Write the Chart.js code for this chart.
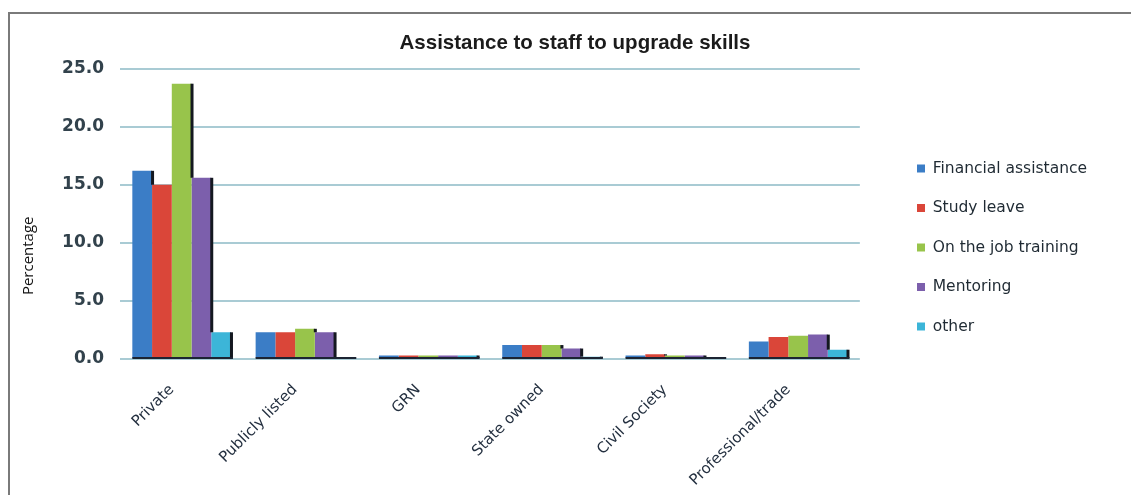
<!DOCTYPE html>
<html>
<head>
<meta charset="utf-8">
<script src="https://cdn.jsdelivr.net/npm/chart.js@4.4.1/dist/chart.umd.min.js"></script>
<style>
  html, body { margin: 0; padding: 0; background: #ffffff; }
  #wrap { position: relative; width: 1131px; height: 495px; overflow: hidden; }
  #frame { position: absolute; left: 8px; top: 12px; right: -4px; bottom: -4px;
           border-top: 2px solid #7a7a7a; border-left: 2px solid #7a7a7a; }
  canvas { position: absolute; left: 0; top: 0; }
</style>
</head>
<body>
<div id="wrap">
  <div id="frame"></div>
  <canvas id="c" width="1131" height="495"></canvas>
</div>
<script>
const categories = ["Private", "Publicly listed", "GRN", "State owned", "Civil Society", "Professional/trade"];
const seriesNames = ["Financial assistance", "Study leave", "On the job training", "Mentoring", "other"];
const financialAssistance = [16.2, 2.3, 0.3, 1.2, 0.3, 1.5];
const studyLeave          = [15.0, 2.3, 0.3, 1.2, 0.4, 1.9];
const onTheJobTraining    = [23.7, 2.6, 0.3, 1.2, 0.3, 2.0];
const mentoring           = [15.6, 2.3, 0.3, 0.9, 0.3, 2.1];
const other               = [2.3,  0.0, 0.3, 0.2, 0.0, 0.8];
const yTicks = [0, 5, 10, 15, 20, 25];
const chartTitle = "Assistance to staff to upgrade skills";
const yTitle = "Percentage";

const colors = ["#3b7dc6", "#da4639", "#98c44b", "#7c5fac", "#3cb5d8"];
const seriesValues = [financialAssistance, studyLeave, onTheJobTraining, mentoring, other];

// draws the dark "side face" of each bar and the dark base line, using the bar elements' geometry
const shadowPlugin = {
  id: 'barShadow',
  afterLayout(chart) {
    // fine placement of title, legend and y-axis title
    if (chart.titleBlock) { chart.titleBlock.left = 20; chart.titleBlock.right = 1130; }
    if (chart.legend) { chart.legend.left = 893; }
    const ys = chart.scales.y;
    ys.bottom = 443;
  },
  afterDatasetsDraw(chart) {
    const ctx = chart.ctx;
    const metas = chart.getSortedVisibleDatasetMetas().sort((a, b) => a.index - b.index);
    const n = metas.length;
    ctx.save();
    for (let j = 0; j < categories.length; j++) {
      ctx.fillStyle = '#141820';
      for (let i = 0; i < n; i++) {
        const el = metas[i].data[j];
        const right = el.x + el.width / 2;
        let bottom = el.base;
        if (i < n - 1) {
          const nx = metas[i + 1].data[j];
          bottom = Math.min(el.base, nx.y);
        }
        if (bottom - el.y > 0.5) {
          ctx.fillRect(right - 1, el.y, 3, bottom - el.y);
        }
      }
      const first = metas[0].data[j];
      const last = metas[n - 1].data[j];
      const l = first.x - first.width / 2;
      const r = last.x + last.width / 2 + 2;
      ctx.fillStyle = '#1c2433';
      ctx.fillRect(l, first.base - 1, r - l, 2);
    }
    ctx.restore();
  }
};

new Chart(document.getElementById('c'), {
  type: 'bar',
  data: {
    labels: categories,
    datasets: seriesNames.map((name, i) => ({
      label: name,
      data: seriesValues[i],
      backgroundColor: colors[i],
      borderWidth: 0,
      categoryPercentage: 0.8,
      barPercentage: 1.0
    }))
  },
  options: {
    responsive: false,
    animation: false,
    devicePixelRatio: 1,
    layout: { padding: { left: 20, right: 36, top: 0, bottom: 0 } },
    plugins: {
      tooltip: { enabled: false },
      title: {
        display: true,
        text: chartTitle,
        color: '#1b1b1b',
        font: { family: "'Liberation Sans Narrow', 'Liberation Sans', sans-serif", size: 20.5, weight: 'bold' },
        padding: { top: 31, bottom: 13 }
      },
      legend: {
        position: 'right',
        align: 'center',
        labels: {
          boxWidth: 8,
          boxHeight: 8,
          padding: 24,
          color: '#1f2a33',
          font: { family: "'DejaVu Sans', sans-serif", size: 15.5 }
        }
      }
    },
    scales: {
      x: {
        grid: { display: false },
        border: { display: false },
        ticks: {
          minRotation: 45,
          maxRotation: 45,
          color: '#243040',
          padding: 14,
          labelOffset: -10,
          font: { family: "'DejaVu Sans', sans-serif", size: 15 }
        },
        afterFit(s) { s.height = 136; }
      },
      y: {
        min: 0,
        max: 25,
        afterBuildTicks(s) { s.ticks = yTicks.map(v => ({ value: v })); },
        grid: { color: '#a9cbd4', lineWidth: 2, drawTicks: false },
        border: { display: false },
        ticks: {
          padding: 16,
          color: '#32424c',
          font: { family: "'DejaVu Sans', sans-serif", size: 17, weight: 'bold' },
          callback: v => Number(v).toFixed(1)
        },
        title: {
          display: true,
          text: yTitle,
          color: '#111111',
          padding: { top: 0, bottom: 0 },
          font: { family: "'Open Sans', sans-serif", size: 15 }
        },
        afterFit(s) { s.width = 100; }
      },
      y2: {
        position: 'right',
        display: true,
        grid: { display: false, drawTicks: false },
        border: { display: false },
        ticks: { display: false },
        afterFit(s) { s.width = 56; }
      }
    }
  },
  plugins: [shadowPlugin]
});
</script>
</body>
</html>
